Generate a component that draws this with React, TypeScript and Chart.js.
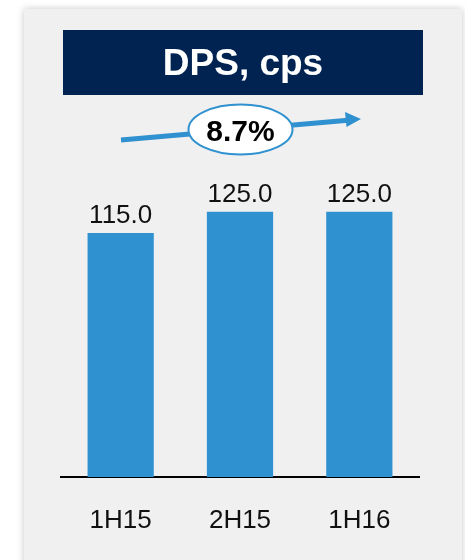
import React, { useEffect, useRef } from "react";
import { Chart, registerables } from "chart.js";

Chart.register(...registerables);

const categories = ["1H15", "2H15", "1H16"];
const dpsValues = [115.0, 125.0, 125.0];
const titleText = "DPS, cps";
const growthLabel = "8.7%";

const FONT = "'Liberation Sans', Arial, Helvetica, sans-serif";
const BAR_COLOR = "#3091d0";
const NAVY = "#002352";
const PANEL = "#f0f0f0";

const decorPlugin = {
  id: "decor",
  beforeDraw(chart: any) {
    const ctx = chart.ctx;
    ctx.save();
    ctx.fillStyle = "#ffffff";
    ctx.fillRect(0, 0, chart.width, chart.height);
    ctx.shadowColor = "rgba(0,0,0,0.22)";
    ctx.shadowBlur = 7;
    ctx.shadowOffsetX = 0;
    ctx.shadowOffsetY = 0;
    ctx.fillStyle = PANEL;
    ctx.fillRect(24, 9, 438, chart.height);
    ctx.shadowColor = "transparent";
    ctx.shadowBlur = 0;
    ctx.fillStyle = NAVY;
    ctx.fillRect(63, 30, 360, 65);
    ctx.fillStyle = "#ffffff";
    ctx.font = `bold 37px ${FONT}`;
    ctx.textAlign = "center";
    ctx.textBaseline = "alphabetic";
    ctx.fillText(titleText, 243, 75);
    ctx.restore();
  },
  afterDatasetsDraw(chart: any) {
    const ctx = chart.ctx;
    ctx.save();
    const meta = chart.getDatasetMeta(0);
    ctx.fillStyle = "#111111";
    ctx.font = `26px ${FONT}`;
    ctx.textAlign = "center";
    ctx.textBaseline = "alphabetic";
    meta.data.forEach((bar: any, i: number) => {
      ctx.fillText(dpsValues[i].toFixed(1), bar.x, bar.y - 10);
    });
    ctx.strokeStyle = BAR_COLOR;
    ctx.lineWidth = 5;
    ctx.beginPath();
    ctx.moveTo(121, 140);
    ctx.lineTo(348, 120.2);
    ctx.stroke();
    ctx.fillStyle = BAR_COLOR;
    ctx.beginPath();
    ctx.moveTo(361, 119);
    ctx.lineTo(345, 112);
    ctx.lineTo(346.5, 127);
    ctx.closePath();
    ctx.fill();
    ctx.beginPath();
    ctx.ellipse(240.5, 129.5, 52, 25, 0, 0, Math.PI * 2);
    ctx.fillStyle = "#ffffff";
    ctx.fill();
    ctx.lineWidth = 2;
    ctx.strokeStyle = BAR_COLOR;
    ctx.stroke();
    ctx.fillStyle = "#000000";
    ctx.font = `bold 30px ${FONT}`;
    ctx.textAlign = "center";
    ctx.fillText(growthLabel, 240.5, 140.5);
    ctx.restore();
  },
};

export default function App() {
  const ref = useRef<HTMLCanvasElement | null>(null);
  useEffect(() => {
    if (!ref.current) return;
    const chart = new Chart(ref.current, {
      type: "bar",
      data: {
        labels: categories,
        datasets: [
          {
            data: dpsValues,
            backgroundColor: BAR_COLOR,
            barPercentage: 0.555,
            categoryPercentage: 1,
            borderWidth: 0,
          },
        ],
      },
      options: {
        animation: false,
        responsive: false,
        maintainAspectRatio: false,
        events: [],
        layout: { padding: { top: 180, left: 61, right: 46, bottom: 25 } },
        plugins: {
          legend: { display: false },
          title: { display: false },
          tooltip: { enabled: false },
        },
        scales: {
          x: {
            grid: { display: false, drawTicks: false },
            border: { display: true, color: "#000000", width: 2 },
            ticks: {
              color: "#111111",
              font: { family: FONT, size: 26 },
              padding: 28,
            },
            afterFit: (scale: any) => {
              scale.height = 58;
            },
          },
          y: {
            display: false,
            min: 0,
            max: 140,
          },
        },
      },
      plugins: [decorPlugin],
    });
    return () => chart.destroy();
  }, []);
  return (
    <div style={{ position: "fixed", left: 0, top: 0, width: 465, height: 560 }}>
      <canvas ref={ref} width={465} height={560} style={{ display: "block", width: 465, height: 560 }} />
    </div>
  );
}
